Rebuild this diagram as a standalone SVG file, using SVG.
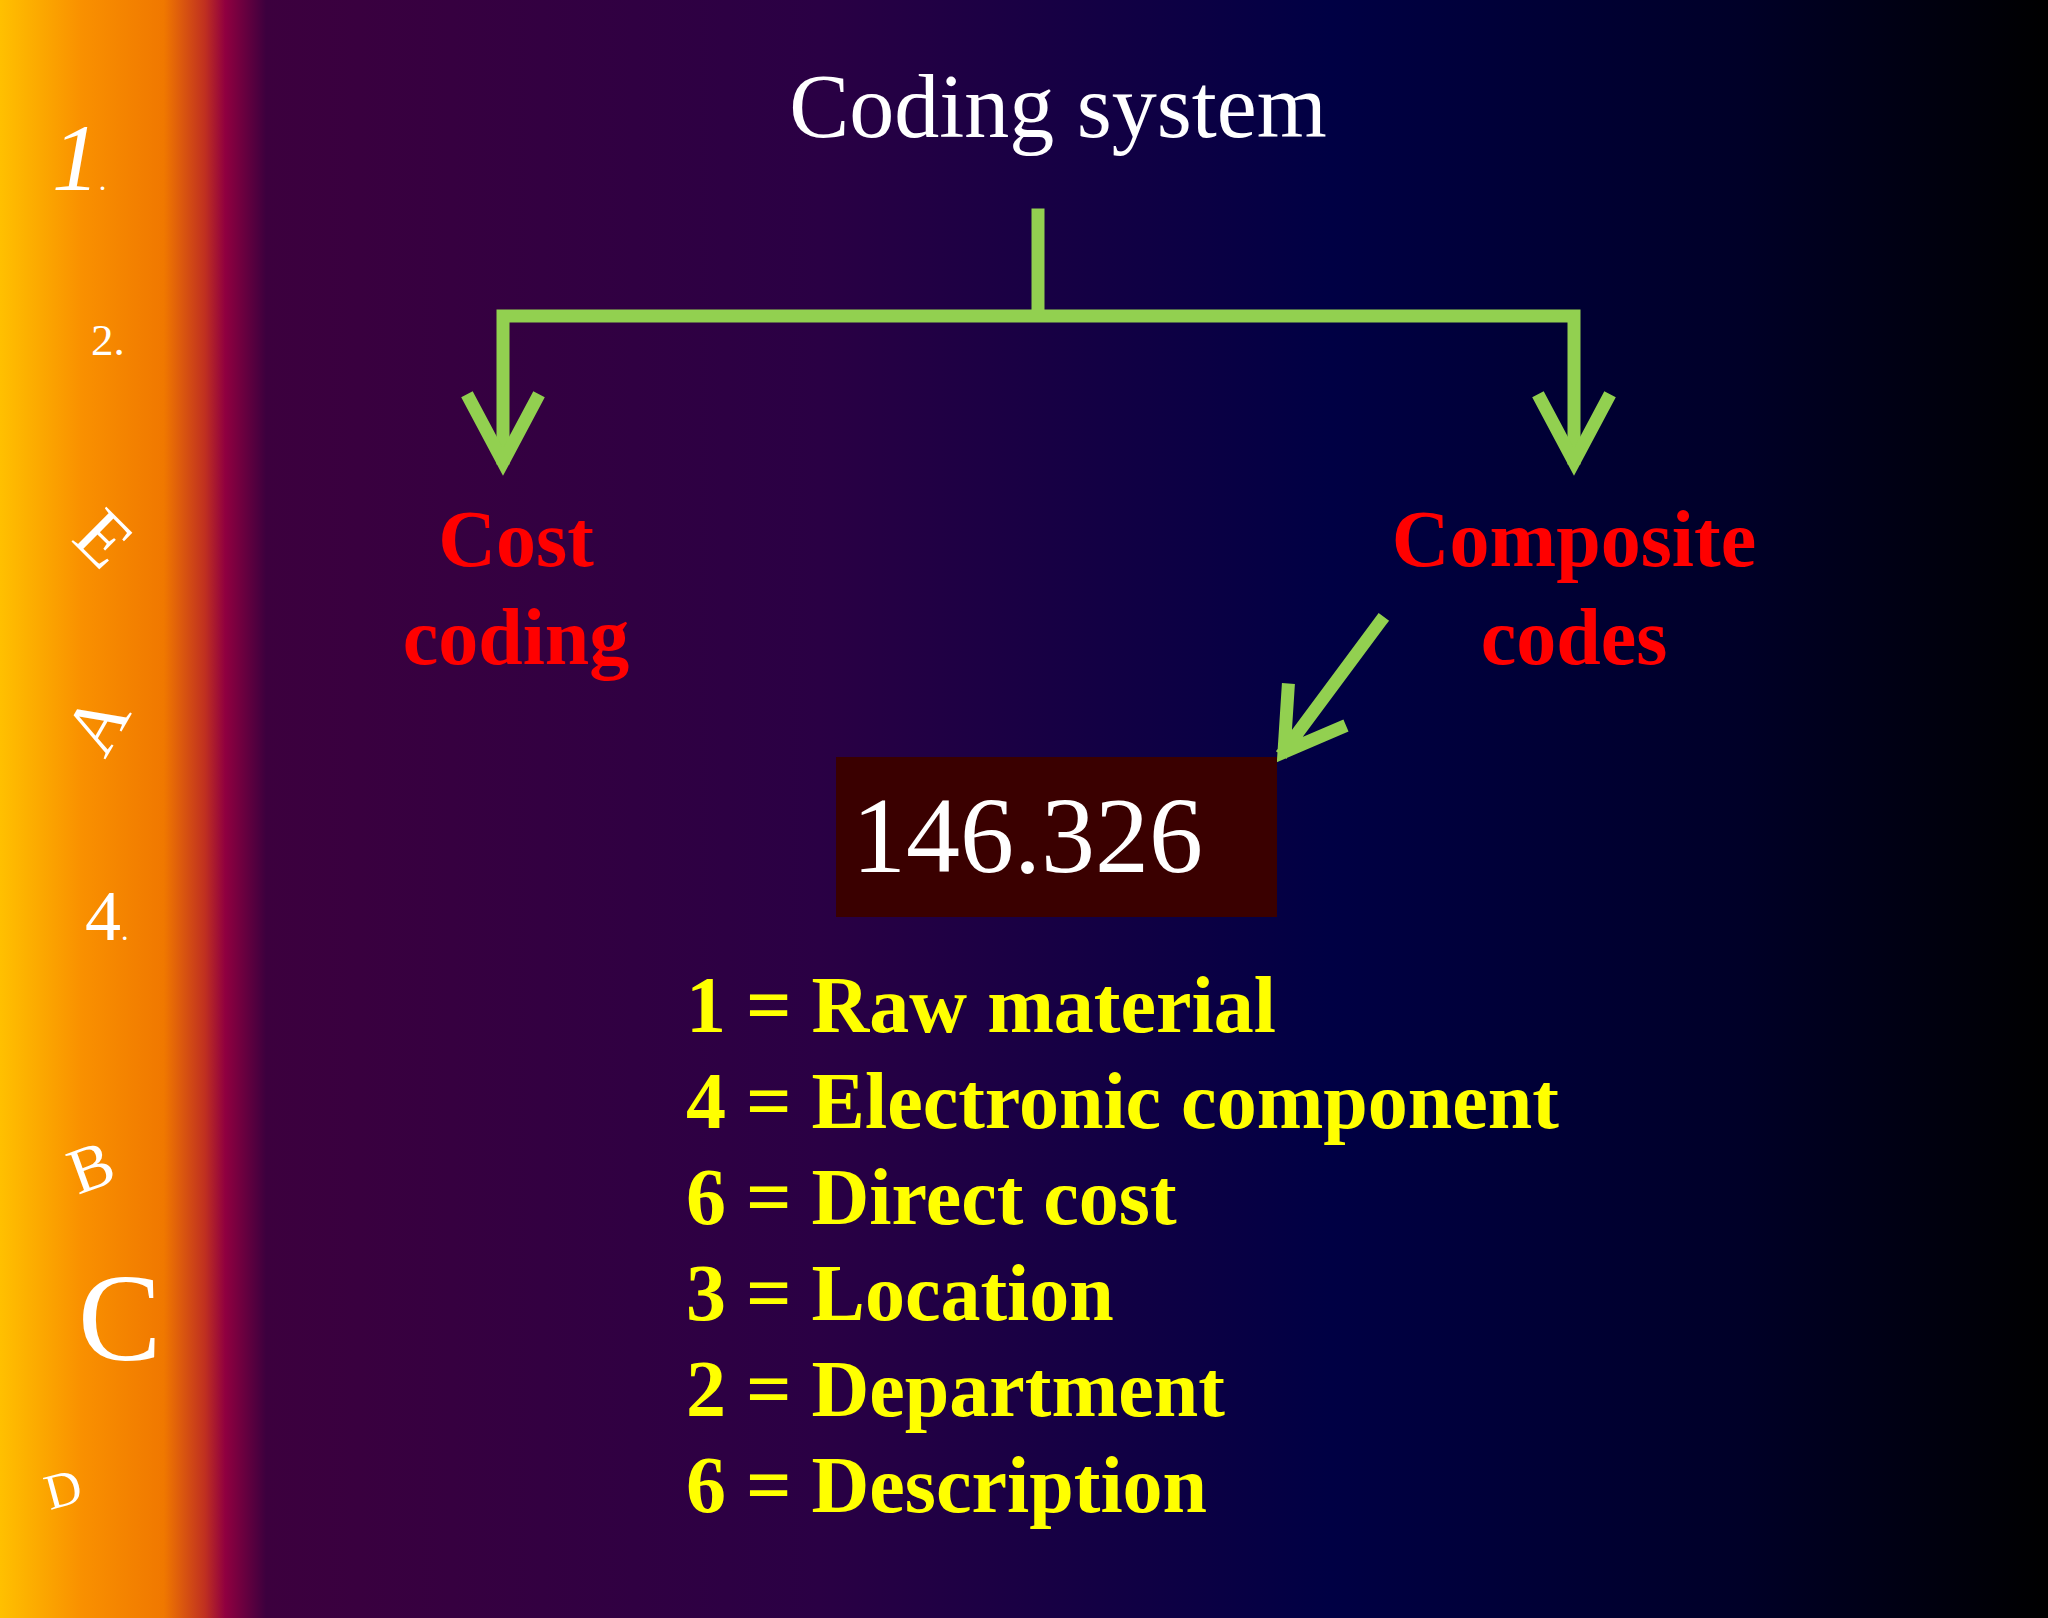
<svg xmlns="http://www.w3.org/2000/svg" width="2048" height="1618" viewBox="0 0 2048 1618">
<defs>
<linearGradient id="bg" x1="0" y1="0" x2="1" y2="0">
<stop offset="0" stop-color="#ffc000"/>
<stop offset="0.04" stop-color="#f99000"/>
<stop offset="0.08" stop-color="#f07800"/>
<stop offset="0.1" stop-color="#c03020"/>
<stop offset="0.11" stop-color="#900040"/>
<stop offset="0.13" stop-color="#3c003e"/>
<stop offset="0.4" stop-color="#2a0044"/>
<stop offset="0.65" stop-color="#000044"/>
<stop offset="0.85" stop-color="#000028"/>
<stop offset="1" stop-color="#000000"/>
</linearGradient>
<style>
.ln{stroke:#92d050;stroke-width:13;fill:none;stroke-linecap:square}
.red{fill:#ff0000;font-family:"Liberation Serif",serif;font-weight:bold;font-size:80px;text-anchor:middle}
.yel{fill:#ffff00;font-family:"Liberation Serif",serif;font-weight:bold;font-size:80px}
.wl{fill:#ffffff;font-family:"Liberation Serif",serif}
</style>
</defs>
<rect width="2048" height="1618" fill="url(#bg)"/>
<g id="sidebar">
<text class="wl" x="52" y="190" font-size="95" font-style="italic">1<tspan font-size="30">.</tspan></text>
<text class="wl" x="91" y="355" font-size="45">2.</text>
<text class="wl" font-size="75" transform="translate(70,540) rotate(45)">E</text>
<text class="wl" font-size="75" transform="translate(105,760) rotate(-60)">A</text>
<text class="wl" x="85" y="940" font-size="72">4<tspan font-size="30">.</tspan></text>
<text class="wl" font-size="65" transform="translate(78,1195) rotate(-20)">B</text>
<text class="wl" x="78" y="1360" font-size="125">C</text>
<text class="wl" font-size="50" transform="translate(50,1510) rotate(-15)">D</text>
</g>
<g id="title"><text class="wl" x="1058" y="137" font-size="90" text-anchor="middle">Coding system</text></g>
<g id="connectors">
<path class="ln" d="M1038 215V313M503 316H1574M503 316V458M1574 316V458"/>
<path class="ln" d="M470 400L503 462L536 400M1541 400L1574 462L1607 400"/>
<path class="ln" d="M1380 622L1285 750M1288 690L1284 752L1340 728"/>
</g>
<g id="cost"><text class="red" x="516" y="566">Cost</text><text class="red" x="516" y="664">coding</text></g>
<g id="composite"><text class="red" x="1574" y="566">Composite</text><text class="red" x="1574" y="664">codes</text></g>
<g id="code">
<rect x="836" y="757" width="441" height="160" fill="#3a0000"/>
<text class="wl" x="852" y="872" font-size="108">146.326</text>
</g>
<g id="legend">
<text class="yel" x="686" y="1032">1 = Raw material</text>
<text class="yel" x="686" y="1128">4 = Electronic component</text>
<text class="yel" x="686" y="1224">6 = Direct cost</text>
<text class="yel" x="686" y="1320">3 = Location</text>
<text class="yel" x="686" y="1416">2 = Department</text>
<text class="yel" x="686" y="1512">6 = Description</text>
</g>
</svg>
